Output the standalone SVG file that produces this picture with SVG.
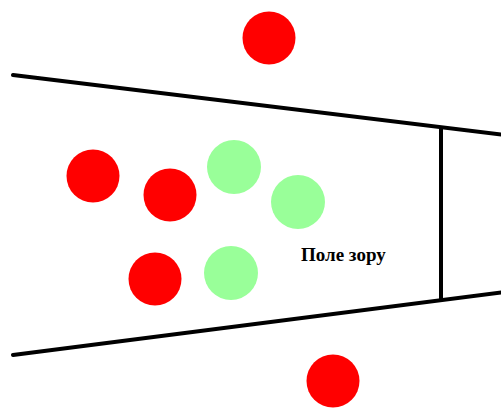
<svg xmlns="http://www.w3.org/2000/svg" width="501" height="408" viewBox="0 0 501 408">
<style>
.ln{stroke:#000;stroke-width:4;fill:none;stroke-linecap:round}
.red{fill:#ff0000}
.grn{fill:#99ff99}
.lbl{font-family:"Liberation Serif",serif;font-weight:bold;font-size:19px;fill:#000}
</style>
<rect width="501" height="408" fill="#fff"/>
<g id="connectors">
<line class="ln" x1="13" y1="75" x2="505" y2="135"/>
<line class="ln" x1="13" y1="355" x2="505" y2="292"/>
<line class="ln" x1="441" y1="127" x2="441" y2="300" style="stroke-linecap:butt"/>
</g>
<g id="r1"><circle class="red" cx="269" cy="38" r="26.5"/></g>
<g id="r2"><circle class="red" cx="93" cy="176" r="26.5"/></g>
<g id="r3"><circle class="red" cx="170" cy="195" r="26.5"/></g>
<g id="r4"><circle class="red" cx="155" cy="279" r="26.5"/></g>
<g id="r5"><circle class="red" cx="333" cy="381" r="26.5"/></g>
<g id="g1"><circle class="grn" cx="234" cy="167" r="27"/></g>
<g id="g2"><circle class="grn" cx="298" cy="202" r="27"/></g>
<g id="g3"><circle class="grn" cx="231" cy="273" r="27"/></g>
<g id="label"><text class="lbl" x="301" y="261">Поле зору</text></g>
</svg>
